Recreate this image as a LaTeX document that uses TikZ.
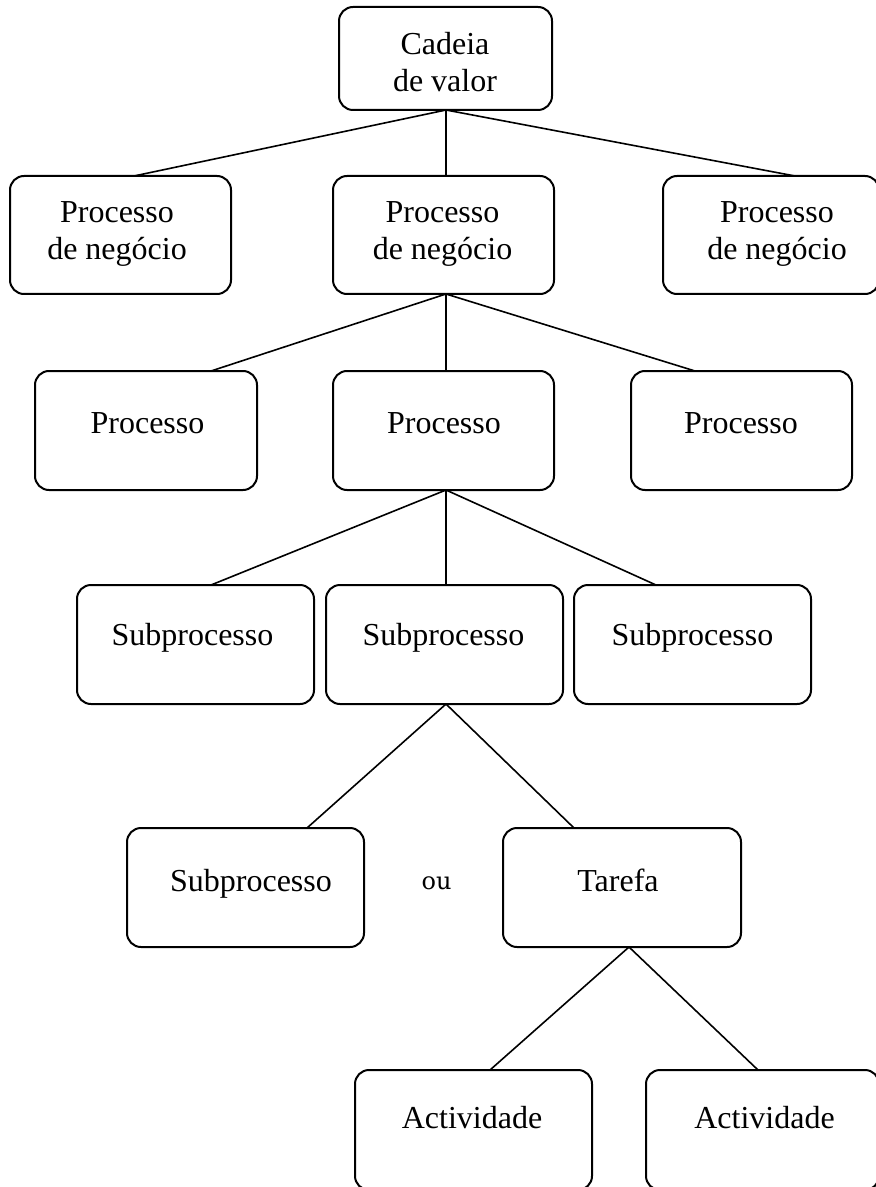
\documentclass[tikz,border=0pt]{standalone}
\usepackage{fontspec}
\setmainfont{Liberation Serif}
\newfontfamily\oufont{DejaVu Serif}
\begin{document}
\begin{tikzpicture}[x=0.5pt,y=-0.5pt,
  box/.style={draw, line width=1pt, rounded corners=7pt, anchor=north west,
    inner sep=0pt, outer sep=0pt},
  lbl/.style={anchor=base, inner sep=0pt, font=\fontsize{16}{18.5}\selectfont},
  link/.style={line width=0.8pt}]
\useasboundingbox (0,0) rectangle (875,1187);

% level 1
\node[box, minimum width=106.5pt, minimum height=51.5pt] (root) at (339,7) {};
% level 2
\node[box, minimum width=110.5pt, minimum height=59pt] (pn1) at (10,176) {};
\node[box, minimum width=110.5pt, minimum height=59pt] (pn2) at (333,176) {};
\node[box, minimum width=108pt,   minimum height=59pt] (pn3) at (663,176) {};
% level 3
\node[box, minimum width=111pt,   minimum height=59.5pt] (pr1) at (35,371) {};
\node[box, minimum width=110.5pt, minimum height=59.5pt] (pr2) at (333,371) {};
\node[box, minimum width=110.5pt, minimum height=59.5pt] (pr3) at (631,371) {};
% level 4
\node[box, minimum width=118.5pt, minimum height=59.5pt] (sp1) at (77,585) {};
\node[box, minimum width=118.5pt, minimum height=59.5pt] (sp2) at (326,585) {};
\node[box, minimum width=118.5pt, minimum height=59.5pt] (sp3) at (574,585) {};
% level 5
\node[box, minimum width=118.5pt, minimum height=59.5pt] (sq1) at (127,828) {};
\node[box, minimum width=119pt,   minimum height=59.5pt] (tar) at (503,828) {};
% level 6
\node[box, minimum width=118.5pt, minimum height=60pt] (act1) at (355,1070) {};
\node[box, minimum width=116.5pt, minimum height=60pt] (act2) at (646,1070) {};

% labels
\node[lbl] (troot) at (445,55) {\begin{tabular}[t]{@{}c@{}}Cadeia\\de valor\end{tabular}};
\node[lbl] (tpn1) at (117,223) {\begin{tabular}[t]{@{}c@{}}Processo\\de negócio\end{tabular}};
\node[lbl] (tpn2) at (442.5,223) {\begin{tabular}[t]{@{}c@{}}Processo\\de negócio\end{tabular}};
\node[lbl] (tpn3) at (777,223) {\begin{tabular}[t]{@{}c@{}}Processo\\de negócio\end{tabular}};
\node[lbl] (tpr1) at (147.5,433) {Processo};
\node[lbl] (tpr2) at (444,433) {Processo};
\node[lbl] (tpr3) at (741,433) {Processo};
\node[lbl] (tsp1) at (192.5,645) {Subprocesso};
\node[lbl] (tsp2) at (443.5,645) {Subprocesso};
\node[lbl] (tsp3) at (692.5,645) {Subprocesso};
\node[lbl] (tsq1) at (251,891) {Subprocesso};
\node[lbl] (ttar) at (618,891) {Tarefa};
\node[anchor=base, inner sep=0pt, font=\oufont\fontsize{12}{14}\selectfont] (ou) at (436.5,889) {ou};
\node[lbl] (tact1) at (472,1128) {Actividade};
\node[lbl] (tact2) at (764.5,1128) {Actividade};

% connectors
\coordinate (rootb) at ([xshift=0.25pt]root.south);
\draw[link] (rootb) -- ([xshift=6.75pt]pn1.north);
\draw[link] (rootb) -- (rootb |- pn2.north);
\draw[link] (rootb) -- ([xshift=12pt]pn3.north);

\coordinate (pn2b) at ([xshift=1.25pt]pn2.south);
\draw[link] (pn2b) -- ([xshift=32.5pt]pr1.north);
\draw[link] (pn2b) -- (pn2b |- pr2.north);
\draw[link] (pn2b) -- ([xshift=-23.25pt]pr3.north);

\coordinate (pr2b) at ([xshift=1.25pt]pr2.south);
\draw[link] (pr2b) -- ([xshift=7.75pt]sp1.north);
\draw[link] (pr2b) -- (pr2b |- sp2.north);
\draw[link] (pr2b) -- ([xshift=-18.25pt]sp3.north);

\coordinate (sp2b) at ([xshift=0.75pt]sp2.south);
\draw[link] (sp2b) -- ([xshift=30.75pt]sq1.north);
\draw[link] (sp2b) -- ([xshift=-24pt]tar.north);

\coordinate (tarb) at ([xshift=3.5pt]tar.south);
\draw[link] (tarb) -- ([xshift=8.25pt]act1.north);
\draw[link] (tarb) -- ([xshift=-2.25pt]act2.north);
\end{tikzpicture}
\end{document}
